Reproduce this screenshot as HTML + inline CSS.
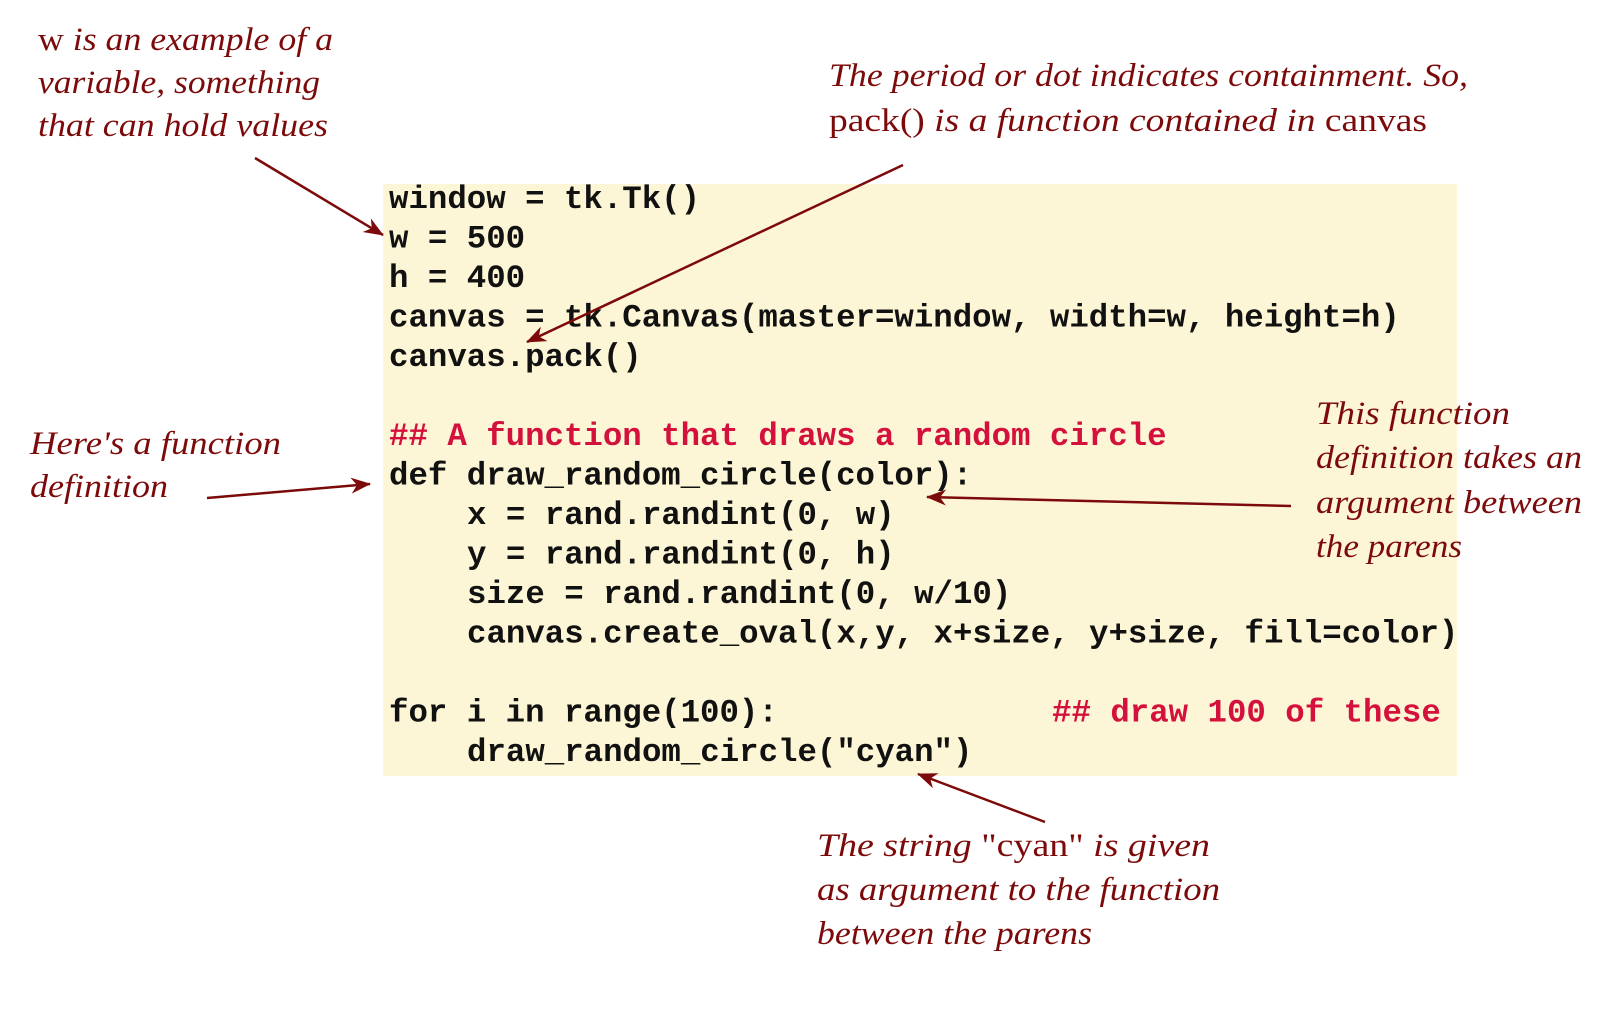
<!DOCTYPE html>
<html><head><meta charset="utf-8"><style>
html,body{margin:0;padding:0;background:#fff;}
svg{display:block}
.c{font-family:"Liberation Mono",monospace;font-size:32.4px;font-weight:bold;fill:#111}
.r{fill:#d4103c}
.a{font-family:"Liberation Serif",serif;font-style:italic;font-size:33px;fill:#7d0a0a}
.u{font-style:normal}
</style></head><body>
<svg width="1614" height="1010" viewBox="0 0 1614 1010" xmlns="http://www.w3.org/2000/svg">
<defs><marker id="h" viewBox="0 0 20 16" markerWidth="22" markerHeight="16" refX="19" refY="8" orient="auto" markerUnits="userSpaceOnUse"><path d="M0,0 L20,8 L0,16 L6,8 Z" fill="#7d0a0a"/></marker></defs>
<rect x="383" y="184" width="1074" height="592" fill="#fdf6d6"/>
<g class="c">
<text x="389" y="208">window = tk.Tk()</text>
<text x="389" y="247.5">w = 500</text>
<text x="389" y="287">h = 400</text>
<text x="389" y="326.5">canvas = tk.Canvas(master=window, width=w, height=h)</text>
<text x="389" y="366">canvas.pack()</text>
<text x="389" y="445" class="c r">## A function that draws a random circle</text>
<text x="389" y="484.5">def draw_random_circle(color):</text>
<text x="467" y="524">x = rand.randint(0, w)</text>
<text x="467" y="563.5">y = rand.randint(0, h)</text>
<text x="467" y="603">size = rand.randint(0, w/10)</text>
<text x="467" y="642.5">canvas.create_oval(x,y, x+size, y+size, fill=color)</text>
<text x="389" y="721.5">for i in range(100):</text>
<text x="1052" y="721.5" class="c r">## draw 100 of these</text>
<text x="467" y="761">draw_random_circle("cyan")</text>
</g>
<g stroke="#7d0a0a" stroke-width="2.5" fill="none">
<line x1="255" y1="158" x2="383" y2="235" marker-end="url(#h)"/>
<line x1="903" y1="165" x2="527" y2="342" marker-end="url(#h)"/>
<line x1="207" y1="498" x2="370" y2="484" marker-end="url(#h)"/>
<line x1="1291" y1="506" x2="927" y2="497" marker-end="url(#h)"/>
<line x1="1045" y1="822" x2="918" y2="774" marker-end="url(#h)"/>
</g>
<g class="a">
<text x="38" y="50" textLength="295" lengthAdjust="spacingAndGlyphs"><tspan class="u">w</tspan> is an example of a</text>
<text x="38" y="93" textLength="282" lengthAdjust="spacingAndGlyphs">variable, something</text>
<text x="38" y="136" textLength="290" lengthAdjust="spacingAndGlyphs">that can hold values</text>
<text x="829" y="86" textLength="639" lengthAdjust="spacingAndGlyphs">The period or dot indicates containment. So,</text>
<text x="829" y="131" textLength="598" lengthAdjust="spacingAndGlyphs"><tspan class="u">pack()</tspan> is a function contained in <tspan class="u">canvas</tspan></text>
<text x="30" y="454" textLength="251" lengthAdjust="spacingAndGlyphs">Here's a function</text>
<text x="30" y="497" textLength="138" lengthAdjust="spacingAndGlyphs">definition</text>
<text x="1316" y="424" textLength="194" lengthAdjust="spacingAndGlyphs">This function</text>
<text x="1316" y="468" textLength="266" lengthAdjust="spacingAndGlyphs">definition takes an</text>
<text x="1316" y="513" textLength="266" lengthAdjust="spacingAndGlyphs">argument between</text>
<text x="1316" y="557" textLength="146" lengthAdjust="spacingAndGlyphs">the parens</text>
<text x="817" y="856" textLength="393" lengthAdjust="spacingAndGlyphs">The string <tspan class="u">"cyan"</tspan> is given</text>
<text x="817" y="900" textLength="403" lengthAdjust="spacingAndGlyphs">as argument to the function</text>
<text x="817" y="944" textLength="275" lengthAdjust="spacingAndGlyphs">between the parens</text>
</g>
</svg>
</body></html>
